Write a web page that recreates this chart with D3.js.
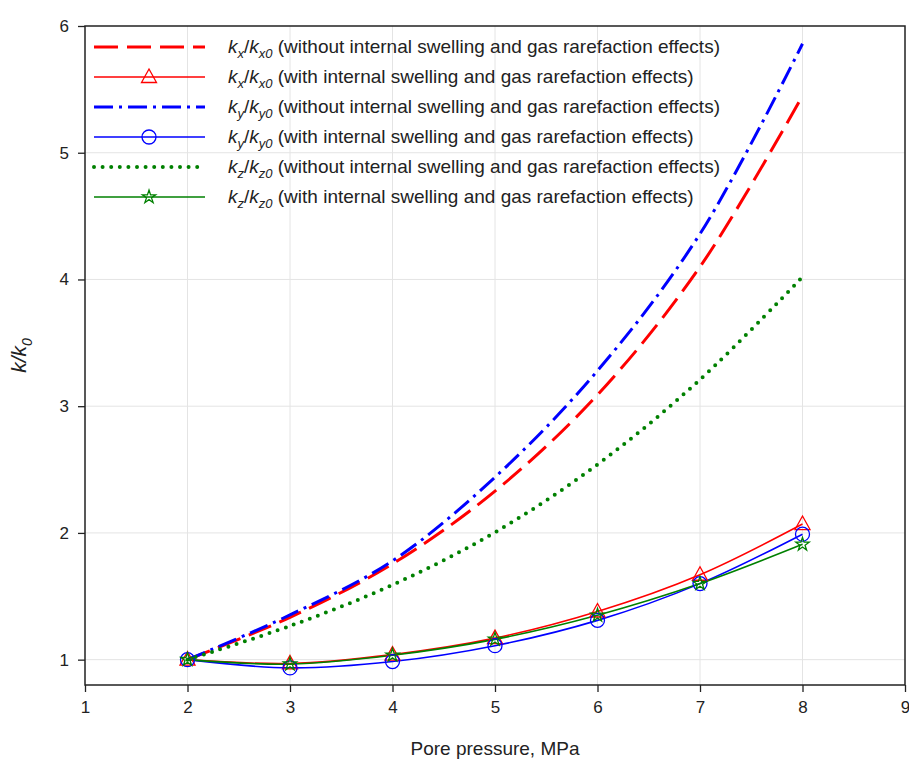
<!DOCTYPE html>
<html>
<head>
<meta charset="utf-8">
<script src="https://cdn.jsdelivr.net/npm/d3@7"></script>
<style>
  body { margin: 0; background: #fff; }
  text { font-family: "Liberation Sans", Arial, sans-serif; fill: #222; }
</style>
</head>
<body>
<script>
(function() {
  'use strict';

  var width = 909, height = 764,
      margin = {left: 85, right: 4, top: 26, bottom: 79};

  // pore pressure, MPa
  var pressure = [2, 3, 4, 5, 6, 7, 8];

  // permeability ratios, without internal swelling / gas rarefaction
  var kxWithout = [1, 1.334, 1.756, 2.33, 3.09, 4.10, 5.45];
  var kyWithout = [1, 1.353, 1.78, 2.44, 3.28, 4.36, 5.86];
  var kzWithout = [1, 1.266, 1.59, 2.005, 2.54, 3.21, 4.02];

  // with internal swelling and gas rarefaction
  var kxWith = [1, 0.97, 1.04, 1.17, 1.38, 1.67, 2.07];
  var kyWith = [1, 0.935, 0.985, 1.11, 1.31, 1.60, 1.99];
  var kzWith = [1, 0.965, 1.035, 1.16, 1.35, 1.60, 1.91];

  var xTicks = [1, 2, 3, 4, 5, 6, 7, 8, 9];
  var yTicks = [1, 2, 3, 4, 5, 6];

  var series = [
    {axis: "x", sub: "x0", note: "without", values: kxWithout, color: "#ff0000", dash: "24,9", width: 3, cap: "butt", marker: null},
    {axis: "x", sub: "x0", note: "with", values: kxWith, color: "#ff0000", dash: null, width: 1.6, cap: "butt", marker: "triangle"},
    {axis: "y", sub: "y0", note: "without", values: kyWithout, color: "#0000ff", dash: "19,6,3,6", width: 3, cap: "butt", marker: null},
    {axis: "y", sub: "y0", note: "with", values: kyWith, color: "#0000ff", dash: null, width: 1.6, cap: "butt", marker: "circle"},
    {axis: "z", sub: "z0", note: "without", values: kzWithout, color: "#008000", dash: "0,8.6", width: 4, cap: "round", marker: null},
    {axis: "z", sub: "z0", note: "with", values: kzWith, color: "#008000", dash: null, width: 1.6, cap: "butt", marker: "star"}
  ];

  var svg = d3.select("body").append("svg")
      .attr("width", width)
      .attr("height", height);

  var x = d3.scaleLinear().domain([1, 9]).range([margin.left, width - margin.right]);
  var y = d3.scaleLinear().domain([0.8, 6]).range([height - margin.bottom, margin.top]);

  // grid
  svg.append("g").selectAll("line").data(xTicks.slice(1, -1)).enter()
     .append("line")
     .attr("x1", function(d) { return x(d); })
     .attr("x2", function(d) { return x(d); })
     .attr("y1", y(0.8)).attr("y2", y(6))
     .attr("stroke", "#e4e4e4").attr("stroke-width", 1);
  svg.append("g").selectAll("line").data(yTicks.slice(0, -1)).enter()
     .append("line")
     .attr("x1", x(1)).attr("x2", x(9))
     .attr("y1", function(d) { return y(d); })
     .attr("y2", function(d) { return y(d); })
     .attr("stroke", "#e4e4e4").attr("stroke-width", 1);

  // axes
  var xAxis = svg.append("g")
      .attr("transform", "translate(0," + y(0.8) + ")")
      .call(d3.axisBottom(x).tickValues(xTicks).tickSize(7).tickPadding(9).tickFormat(d3.format("d")));
  var yAxis = svg.append("g")
      .attr("transform", "translate(" + x(1) + ",0)")
      .call(d3.axisLeft(y).tickValues(yTicks).tickSize(7).tickPadding(9).tickFormat(d3.format("d")));
  [xAxis, yAxis].forEach(function(g) {
    g.select(".domain").remove();
    g.selectAll("line").attr("stroke", "#222").attr("stroke-width", 1.3);
    g.selectAll("text").style("font-family", "Liberation Sans, Arial, sans-serif")
      .style("font-size", "17px").attr("fill", "#222");
  });

  // frame
  svg.append("rect")
     .attr("x", x(1)).attr("y", y(6))
     .attr("width", x(9) - x(1)).attr("height", y(0.8) - y(6))
     .attr("fill", "none").attr("stroke", "#222").attr("stroke-width", 1.5);

  var line = d3.line()
      .x(function(d) { return x(d[0]); })
      .y(function(d) { return y(d[1]); })
      .curve(d3.curveCatmullRom.alpha(0.5));

  function drawMarker(g, type, cx, cy, color) {
    if (type === "triangle") {
      g.append("path")
       .attr("d", "M" + cx + "," + (cy - 8) + "L" + (cx + 7.5) + "," + (cy + 5.5) + "L" + (cx - 7.5) + "," + (cy + 5.5) + "Z")
       .attr("fill", "none").attr("stroke", color).attr("stroke-width", 1.3);
    } else if (type === "circle") {
      g.append("circle").attr("cx", cx).attr("cy", cy).attr("r", 7)
       .attr("fill", "none").attr("stroke", color).attr("stroke-width", 1.3);
    } else if (type === "star") {
      g.append("path")
       .attr("d", d3.symbol().type(d3.symbolStar).size(55)())
       .attr("transform", "translate(" + cx + "," + cy + ")")
       .attr("fill", "none").attr("stroke", color).attr("stroke-width", 1.3);
    }
  }

  var plot = svg.append("g");
  series.forEach(function(s) {
    var pts = pressure.map(function(p, i) { return [p, s.values[i]]; });
    var path = plot.append("path").datum(pts)
        .attr("d", line)
        .attr("fill", "none")
        .attr("stroke", s.color)
        .attr("stroke-width", s.width)
        .attr("stroke-linecap", s.cap);
    if (s.dash) path.attr("stroke-dasharray", s.dash);
  });
  series.forEach(function(s) {
    if (!s.marker) return;
    var g = plot.append("g");
    pressure.forEach(function(p, i) { drawMarker(g, s.marker, x(p), y(s.values[i]), s.color); });
  });

  // legend
  var legend = svg.append("g");
  series.forEach(function(s, i) {
    var ly = 47 + i * 30;
    var l = legend.append("line")
        .attr("x1", 94).attr("x2", 205)
        .attr("y1", ly).attr("y2", ly)
        .attr("stroke", s.color)
        .attr("stroke-width", s.width)
        .attr("stroke-linecap", s.cap);
    if (s.dash) l.attr("stroke-dasharray", s.dash);
    if (s.marker) drawMarker(legend, s.marker, 149, ly, s.color);

    var t = legend.append("text").attr("x", 228).attr("y", ly + 6)
        .style("font-size", "19px");
    t.append("tspan").style("font-style", "italic").text("k");
    t.append("tspan").style("font-style", "italic").style("font-size", "13px").attr("dy", 5).text(s.axis);
    t.append("tspan").attr("dy", -5).text("/");
    t.append("tspan").style("font-style", "italic").text("k");
    t.append("tspan").style("font-style", "italic").style("font-size", "13px").attr("dy", 5).text(s.sub);
    t.append("tspan").attr("dy", -5)
     .text(" (" + s.note + " internal swelling and gas rarefaction effects)");
  });

  // axis titles
  svg.append("text")
     .attr("x", (x(1) + x(9)) / 2).attr("y", 755)
     .attr("text-anchor", "middle")
     .style("font-size", "19px")
     .text("Pore pressure, MPa");

  var yt = svg.append("text")
     .attr("transform", "translate(26," + ((y(0.8) + y(6)) / 2) + ") rotate(-90)")
     .attr("text-anchor", "middle")
     .style("font-size", "21px");
  yt.append("tspan").style("font-style", "italic").text("k/k");
  yt.append("tspan").style("font-style", "italic").style("font-size", "14px").attr("dy", 6).text("0");

})();
</script>
</body>
</html>
